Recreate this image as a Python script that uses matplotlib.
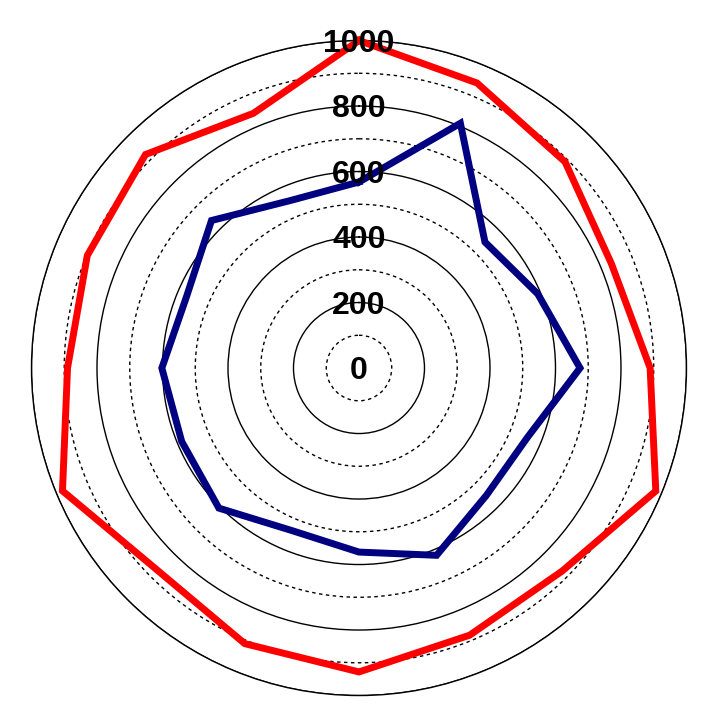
import numpy as np
import matplotlib.pyplot as plt
from matplotlib.transforms import offset_copy

# 16 directions, clockwise from the top
angles_deg = [0, 22.5, 45, 67.5, 90, 112.5, 135, 157.5,
              180, 202.5, 225, 247.5, 270, 292.5, 315, 337.5]
red_values = [1000, 942, 890, 834, 889, 981, 877, 883,
              928, 911, 872, 980, 890, 898, 922, 842]
blue_values = [568, 809, 544, 591, 675, 556, 550, 619,
               562, 537, 605, 586, 602, 570, 637, 553]
major_ticks = [0, 200, 400, 600, 800, 1000]
minor_ticks = [100, 300, 500, 700, 900]

plt.rcParams['font.family'] = ['Liberation Sans', 'DejaVu Sans']

fig = plt.figure(figsize=(7.12, 7.2), dpi=100)
ax = fig.add_axes([0.0442, 0.034, 0.92, 0.9097], projection='polar')
ax.set_theta_zero_location('N')
ax.set_theta_direction(-1)

theta = np.deg2rad(angles_deg + [angles_deg[0]])
ax.plot(theta, red_values + [red_values[0]], color='#ff0000', lw=5,
        solid_joinstyle='miter', clip_on=False, zorder=3)
ax.plot(theta, blue_values + [blue_values[0]], color='#000080', lw=5,
        solid_joinstyle='miter', clip_on=False, zorder=3)

ax.set_ylim(0, 1000)
ax.set_yticks(major_ticks)
ax.set_yticks(minor_ticks, minor=True)
ax.set_yticklabels([])
ax.set_xticks([])
ax.yaxis.grid(True, which='major', color='black', lw=1, linestyle='-')
ax.yaxis.grid(True, which='minor', color='black', lw=1, linestyle=(0, (2.5, 2.5)))
ax.xaxis.grid(False)
ax.spines['polar'].set_linewidth(1)
ax.spines['polar'].set_color('black')

# labels sit a few pixels lower than plain va='center'
lab_tr = offset_copy(ax.transData, fig=fig, y=-3, units='dots')
for v in major_ticks:
    ax.text(0, v, str(v), ha='center', va='center', fontsize=23,
            fontweight='bold', zorder=4, transform=lab_tr)

plt.savefig('out.png', dpi=100)
